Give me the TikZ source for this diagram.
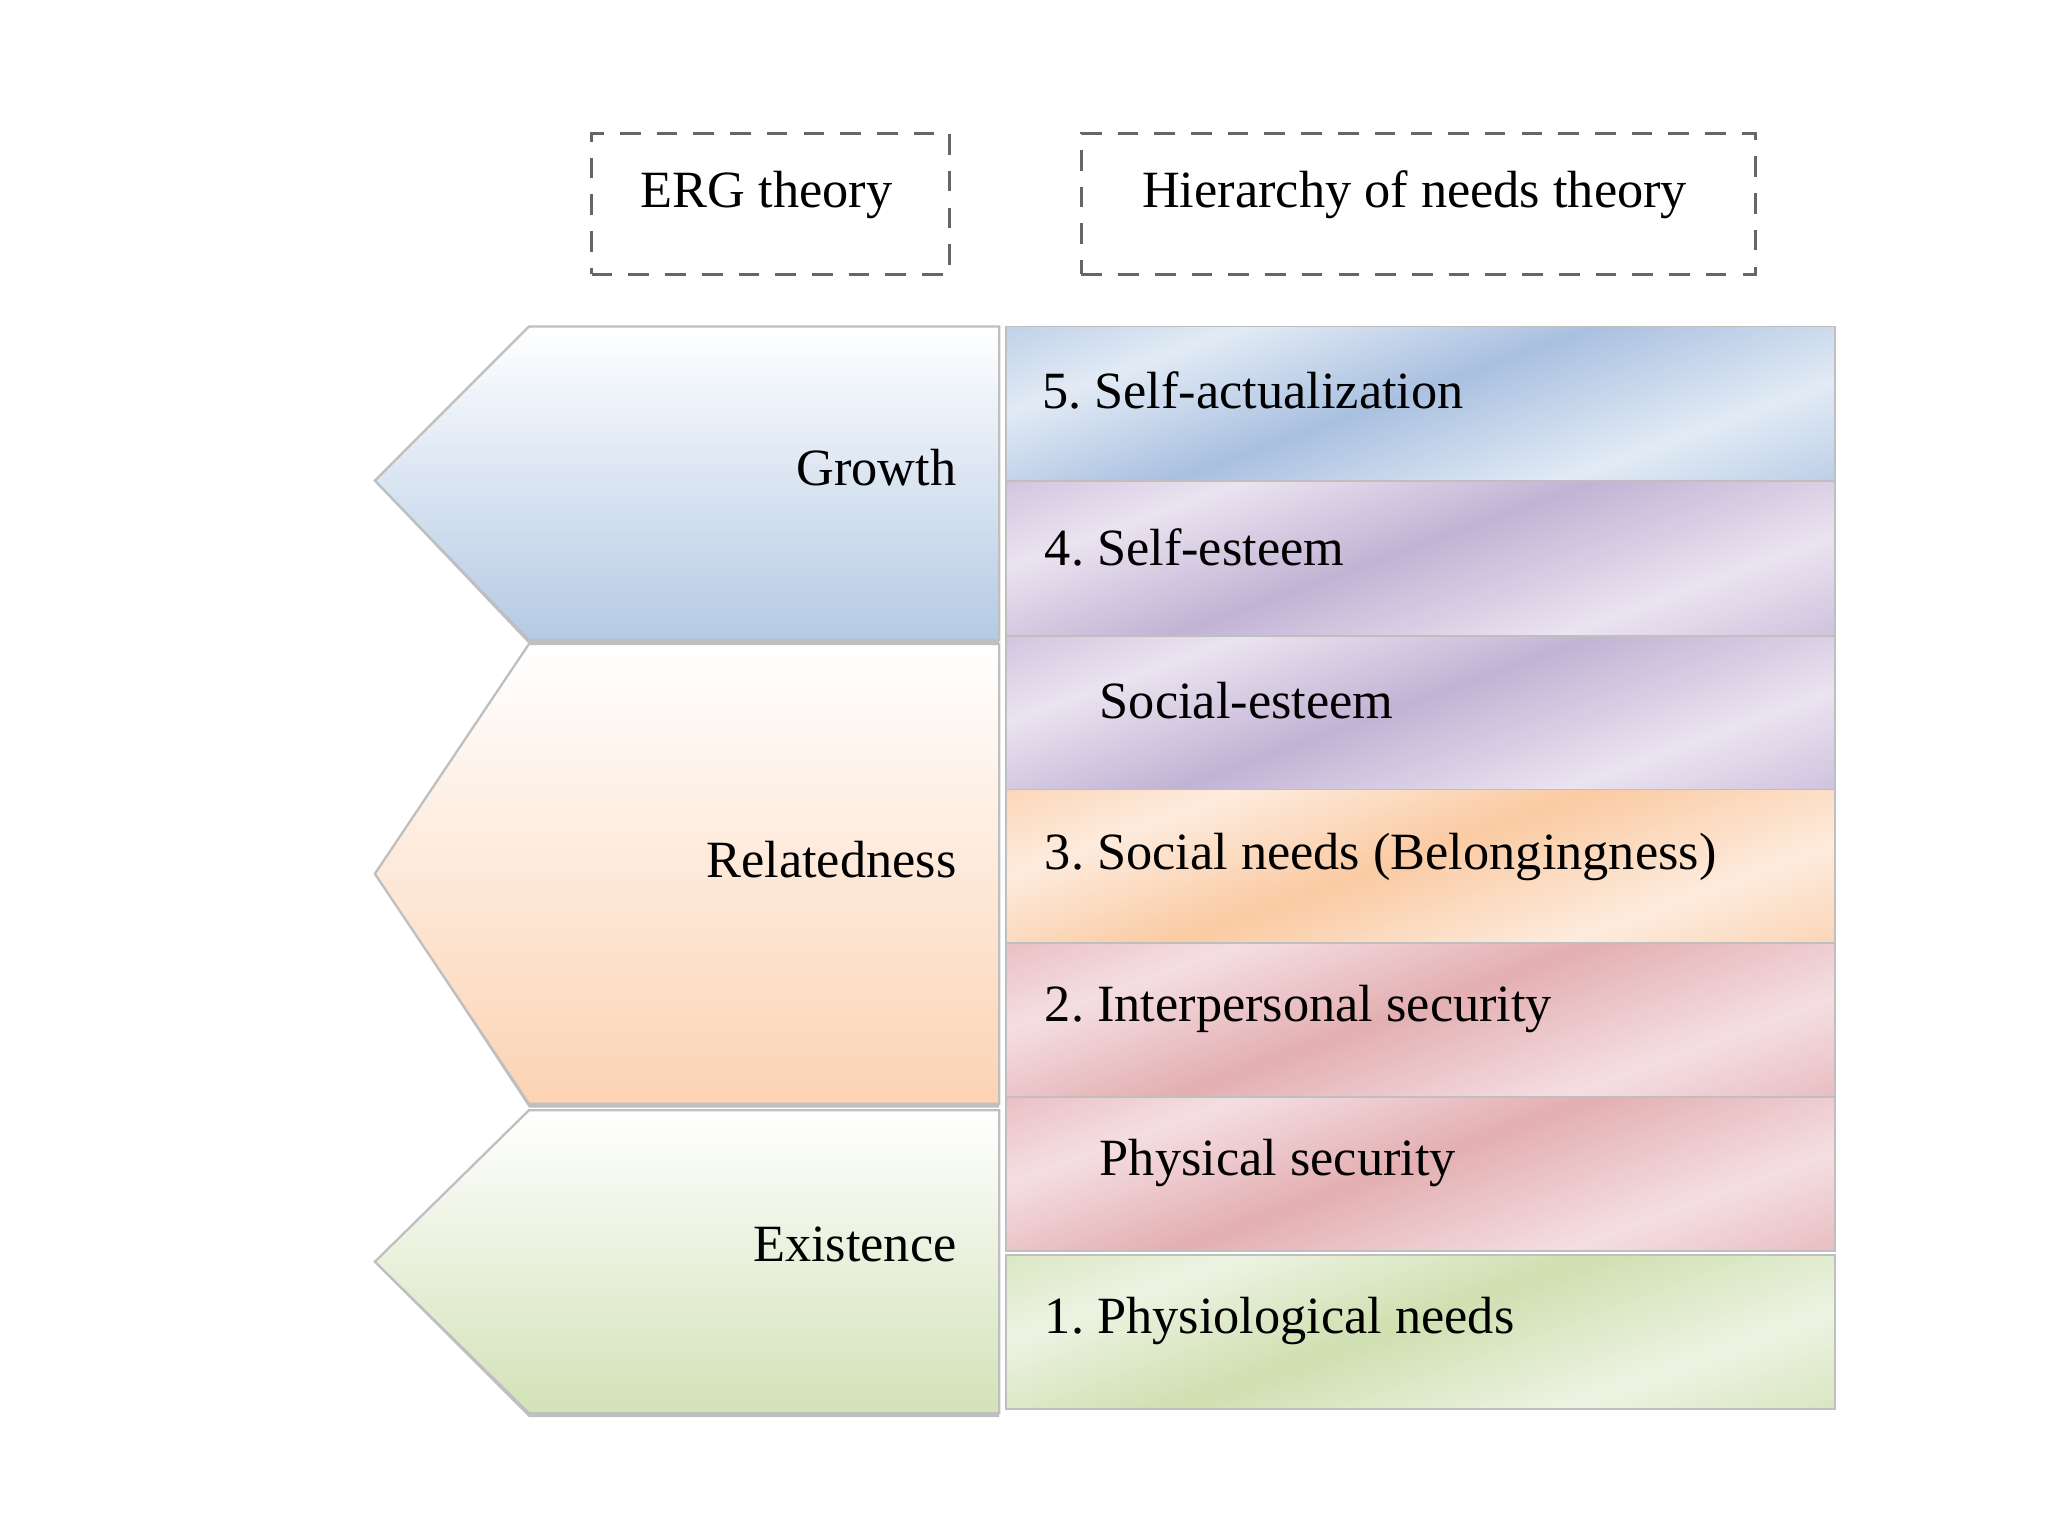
\documentclass[tikz,border=0pt]{standalone}
\usepackage{fontspec}
\setmainfont{Liberation Serif}
\frenchspacing
\usetikzlibrary{calc}
\definecolor{bluedark}{HTML}{8DABD6}
\definecolor{bluelight}{HTML}{E2EBF5}
\definecolor{purpdark}{HTML}{AD9AC6}
\definecolor{purplight}{HTML}{EAE3F0}
\definecolor{orgdark}{HTML}{F9B984}
\definecolor{orglight}{HTML}{FDEBDD}
\definecolor{pinkdark}{HTML}{DA9497}
\definecolor{pinklight}{HTML}{F4DEE2}
\definecolor{grndark}{HTML}{BFD596}
\definecolor{grnlight}{HTML}{EDF3E2}
\definecolor{chevblue}{HTML}{B4CAE4}
\definecolor{chevorg}{HTML}{FCD3B3}
\definecolor{chevgrn}{HTML}{D3E2B8}
\definecolor{edgegrey}{HTML}{BFBFBF}
\pgfdeclarehorizontalshading{sblue}{100bp}{color(0bp)=(bluedark); color(30bp)=(bluelight); color(48bp)=(bluedark!75!white); color(68bp)=(bluelight); color(100bp)=(bluedark)}
\pgfdeclarehorizontalshading{spurp}{100bp}{color(0bp)=(purpdark); color(30bp)=(purplight); color(48bp)=(purpdark!75!white); color(68bp)=(purplight); color(100bp)=(purpdark)}
\pgfdeclarehorizontalshading{sorg}{100bp}{color(0bp)=(orgdark); color(30bp)=(orglight); color(48bp)=(orgdark!75!white); color(68bp)=(orglight); color(100bp)=(orgdark)}
\pgfdeclarehorizontalshading{spink}{100bp}{color(0bp)=(pinkdark); color(30bp)=(pinklight); color(48bp)=(pinkdark!75!white); color(68bp)=(pinklight); color(100bp)=(pinkdark)}
\pgfdeclarehorizontalshading{sgrn}{100bp}{color(0bp)=(grndark); color(30bp)=(grnlight); color(48bp)=(grndark!75!white); color(68bp)=(grnlight); color(100bp)=(grndark)}
\begin{document}
\begin{tikzpicture}[
  txt/.style={font=\fontsize{11.4}{14}\selectfont, inner sep=0pt},
  headbox/.style={draw=black!60, line width=0.7pt, dash pattern=on 4.5pt off 3.5pt, inner sep=0pt},
  barbox/.style={draw=edgegrey, line width=0.4pt, shade, shading angle=-70, minimum width=6.35cm, minimum height=1.18cm, inner sep=0pt},
  chev/.style={draw=edgegrey, line width=0.5pt},
  chevshadow/.style={fill=black!25, draw=none}
]
\useasboundingbox (0,0) rectangle (15.68,-11.76);
\fill[white] (0,0) rectangle (15.68,-11.76);

% header dashed boxes
\node[headbox, minimum width=2.74cm, minimum height=1.08cm] (erg) at (5.90,-1.56) {};
\node[headbox, minimum width=5.16cm, minimum height=1.08cm] (hier) at (10.86,-1.56) {};
\node[txt] (ergt) at ($(erg.center)+(-0.03,0.07)$) {ERG theory};
\node[txt] (hiert) at ($(hier.center)+(-0.03,0.07)$) {Hierarchy of needs theory};

% chevrons (shadows)
\fill[chevshadow] (7.65,-2.53) -- (4.05,-2.53) -- (2.89,-3.71) -- (4.05,-4.93) -- (7.65,-4.93) -- cycle;
\fill[chevshadow] (7.65,-4.96) -- (4.05,-4.96) -- (2.89,-6.72) -- (4.05,-8.48) -- (7.65,-8.48) -- cycle;
\fill[chevshadow] (7.65,-8.53) -- (4.05,-8.53) -- (2.89,-9.69) -- (4.05,-10.85) -- (7.65,-10.85) -- cycle;
% chevrons
\path[chev, top color=white, bottom color=chevblue] (7.65,-2.50) -- (4.05,-2.50) -- (2.87,-3.68) -- (4.05,-4.90) -- (7.65,-4.90) -- cycle;
\path[chev, top color=white, bottom color=chevorg] (7.65,-4.93) -- (4.05,-4.93) -- (2.87,-6.69) -- (4.05,-8.45) -- (7.65,-8.45) -- cycle;
\path[chev, top color=white, bottom color=chevgrn] (7.65,-8.50) -- (4.05,-8.50) -- (2.87,-9.66) -- (4.05,-10.82) -- (7.65,-10.82) -- cycle;
\node[txt, anchor=east] (growth) at (7.33,-3.58) {Growth};
\node[txt, anchor=east] (relat) at (7.33,-6.58) {Relatedness};
\node[txt, anchor=east] (exist) at (7.33,-9.53) {Existence};

% bars
\node[barbox, shading=sblue] (b5) at (10.875,-3.09) {};
\node[barbox, shading=spurp] (b4) at (10.875,-4.275) {};
\node[barbox, shading=spurp] (bs) at (10.875,-5.46) {};
\node[barbox, shading=sorg] (b3) at (10.875,-6.635) {};
\node[barbox, shading=spink] (b2) at (10.875,-7.81) {};
\node[barbox, shading=spink] (bp) at (10.875,-8.99) {};
\node[barbox, shading=sgrn] (b1) at (10.875,-10.20) {};

\node[txt, anchor=west] (t5) at ($(b5.north west)+(0.28,-0.50)$) {5. Self-actualization};
\node[txt, anchor=west] (t4) at ($(b4.north west)+(0.30,-0.51)$) {4. Self-esteem};
\node[txt, anchor=west] (ts) at ($(bs.north west)+(0.72,-0.50)$) {Social-esteem};
\node[txt, anchor=west] (t3) at ($(b3.north west)+(0.30,-0.52)$) {3. Social needs (Belongingness)};
\node[txt, anchor=west] (t2) at ($(b2.north west)+(0.30,-0.51)$) {2. Interpersonal security};
\node[txt, anchor=west] (tp) at ($(bp.north west)+(0.72,-0.51)$) {Physical security};
\node[txt, anchor=west] (t1) at ($(b1.north west)+(0.30,-0.51)$) {1. Physiological needs};
\end{tikzpicture}
\end{document}
